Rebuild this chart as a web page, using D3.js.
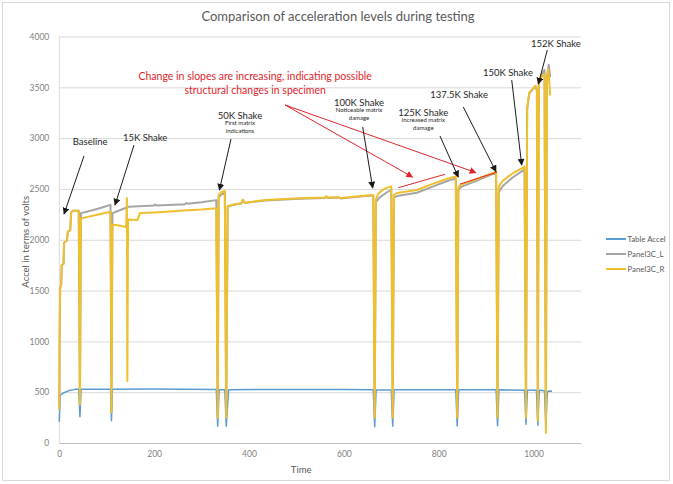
<!DOCTYPE html>
<html>
  <head>
    <title>Comparison of acceleration levels during testing</title>
    <script src="https://d3js.org/d3.v7.min.js"></script>
    <style>
      body { margin: 0; background: #fff; }
      text { font-family: Lato, "Open Sans", sans-serif; }
    </style>
  </head>
  <body>
  <svg width="673" height="484"></svg>
  <script>

    //series data as [time, volts] pairs
    var tableAccel = [[0,210],[2,470],[10,495],[20,515],[35,530],[41,528],[43.5,258],[46,528],[108,530],[110,218],[112,530],
      [200,532],[331,527],[334,166],[337,525],[349,525],[352,166],[357,525],[600,527],[662,525],[665,160],[668,522],
      [700,522],[703,165],[706,525],[836,523],[839,168],[842,525],[921,525],[924,170],[927,523],[981,520],[984,185],
      [987,520],[1006,520],[1009,175],[1012,520],[1023,515],[1026,170],[1029,505],[1033,512],[1039,510]];

    var panelL = [[0,330],[1,1200],[1.8,1530],[4,1560],[5,1750],[9,1765],[10,1970],[16,1990],[18,2080],[23,2095],[25,2270],
      [28,2285],[41,2285],[43.5,380],[45.5,2262],[70,2290],[90,2318],[108,2343],[110,300],[112,2262],[125,2285],[146,2325],
      [200,2336],[202,2347],[205,2338],[266,2350],[268,2362],[271,2355],[300,2370],[331,2390],[334,250],[336,2420],
      [349,2470],[352,250],[355,2325],[365,2342],[384,2357],[387,2390],[391,2362],[435,2387],[507,2404],[560,2412],
      [563,2424],[566,2412],[590,2415],[593,2407],[650,2432],[662,2436],[665,250],[667.5,2370],[675,2415],[690,2465],
      [700,2492],[703,250],[705.5,2415],[712,2430],[754,2462],[790,2528],[818,2578],[836,2604],[839,250],[841.5,2490],
      [846,2518],[882,2584],[921,2660],[924,250],[926.5,2470],[935,2528],[955,2610],[981,2692],[984,250],[986.5,3280],
      [991,3440],[1004,3512],[1007,3470],[1009,230],[1011,3545],[1017,3625],[1023,3672],[1026,180],[1028,3600],
      [1032,3722],[1035,3600]];

    var panelR = [[0,330],[1,1200],[1.8,1530],[4,1560],[5,1750],[9,1765],[10,1970],[16,1990],[18,2080],[23,2095],[25,2270],
      [28,2285],[41,2285],[43.5,380],[45.5,2210],[60,2225],[80,2245],[108,2275],[110,300],[112,2150],[125,2140],[141,2125],
      [142.5,2410],[143.5,610],[145,2200],[165,2195],[170,2262],[200,2268],[240,2280],[270,2290],[300,2298],[331,2310],
      [334,250],[336,2440],[342,2470],[349,2480],[352,250],[355,2330],[365,2345],[384,2360],[387,2395],[391,2365],
      [435,2390],[507,2408],[560,2415],[563,2428],[566,2415],[590,2418],[593,2410],[650,2435],[662,2440],[665,250],
      [667.5,2400],[672,2450],[680,2485],[690,2510],[700,2525],[703,250],[705.5,2440],[712,2460],[754,2490],[790,2555],
      [818,2600],[836,2622],[839,250],[841.5,2520],[846,2540],[882,2600],[921,2670],[924,250],[926.5,2520],[935,2580],
      [955,2650],[981,2720],[984,250],[986.5,3300],[991,3450],[1000,3495],[1004,3516],[1007,3467],[1009,220],[1011,3540],
      [1017,3600],[1023,3630],[1026,101],[1028,3580],[1031,3680],[1033,3560],[1035,3420]];

    var seriesNames = ["Table Accel", "Panel3C_L", "Panel3C_R"];
    var seriesColors = ["#5b9bd5", "#a5a5a5", "#f0bf2c"];
    var xTicks = [0, 200, 400, 600, 800, 1000];
    var yTicks = [0, 500, 1000, 1500, 2000, 2500, 3000, 3500, 4000];

    //callouts: label, sub lines, label pos, arrow from, arrow to (data units)
    var shakes = [
      {label: "Baseline", sub: [], at: [65, 2962], from: [52, 2824], to: [10, 2253]},
      {label: "15K Shake", sub: [], at: [181, 3011], from: [157.5, 2932], to: [117.5, 2342]},
      {label: "50K Shake", sub: ["First matrix", "indications"], at: [381, 3227], from: [362, 2991], to: [337.6, 2489]},
      {label: "100K Shake", sub: ["Noticeable matrix", "damage"], at: [632, 3355], from: [639.7, 3109], to: [660.8, 2509]},
      {label: "125K Shake", sub: ["Increased matrix", "damage"], at: [767.5, 3257], from: [802.7, 3021], to: [841.3, 2617]},
      {label: "137.5K Shake", sub: [], at: [843, 3429], from: [851.8, 3306], to: [920.8, 2670]},
      {label: "150K Shake", sub: [], at: [946, 3646], from: [953.9, 3572], to: [975, 2735]},
      {label: "152K Shake", sub: [], at: [1047, 3936], from: [1029, 3867], to: [1010, 3532]}
    ];
    var slopeNote = ["Change in slopes are increasing, indicating possible", "structural changes in specimen"];
    var slopeArrows = [[[476, 3326], [745, 2617]], [[476, 3326], [878.6, 2660]]];
    var slopeLines = [[[714.8, 2512], [813.2, 2644]], [[844.9, 2548], [922.3, 2664]]];

    var svg = d3.select("svg");
    var plotLeft = 59.3, plotRight = 581, plotTop = 36.5, plotBottom = 443;

    var x = d3.scaleLinear().domain([0, 1100]).range([plotLeft, plotRight]);
    var y = d3.scaleLinear().domain([0, 4000]).range([plotBottom, plotTop]);

    //chart border
    svg.append("rect")
      .attr("x", 2.5).attr("y", 2.5)
      .attr("width", 667).attr("height", 478)
      .attr("fill", "#fff").attr("stroke", "#d9d9d9");

    //arrow heads
    var defs = svg.append("defs");
    [["blk", "#1a1a1a"], ["red", "#e0262c"]].forEach(function(m) {
      defs.append("marker")
        .attr("id", "head-" + m[0])
        .attr("viewBox", "0 0 10 10")
        .attr("refX", 9).attr("refY", 5)
        .attr("markerWidth", 7).attr("markerHeight", 7)
        .attr("markerUnits", "userSpaceOnUse")
        .attr("orient", "auto")
        .append("path")
        .attr("d", "M0,0 L10,5 L0,10 z")
        .attr("fill", m[1]);
    });

    //gridlines + y axis labels
    var yAxis = svg.append("g")
      .attr("transform", "translate(" + plotLeft + ",0)")
      .call(d3.axisLeft(y).tickValues(yTicks).tickFormat(d3.format("d")).tickSize(-(plotRight - plotLeft)).tickPadding(10));
    yAxis.select(".domain").remove();
    yAxis.selectAll(".tick line").attr("stroke", "#d9d9d9");
    yAxis.selectAll(".tick text").attr("fill", "#7f7f7f").attr("font-size", "8.5px").attr("font-family", "Lato, sans-serif");

    //left axis line
    svg.append("line")
      .attr("x1", plotLeft).attr("x2", plotLeft).attr("y1", plotTop).attr("y2", plotBottom)
      .attr("stroke", "#d9d9d9");

    var xAxis = svg.append("g")
      .attr("transform", "translate(0," + plotBottom + ")")
      .call(d3.axisBottom(x).tickValues(xTicks).tickFormat(d3.format("d")).tickSize(0).tickPadding(8));
    xAxis.select(".domain").attr("stroke", "#bfbfbf");
    xAxis.selectAll(".tick text").attr("fill", "#7f7f7f").attr("font-size", "8.5px").attr("font-family", "Lato, sans-serif");

    //series lines
    var line = d3.line()
      .x(function(d) { return x(d[0]); })
      .y(function(d) { return y(d[1]); });

    [tableAccel, panelL, panelR].forEach(function(s, i) {
      svg.append("path")
        .datum(s)
        .attr("fill", "none")
        .attr("stroke", seriesColors[i])
        .attr("stroke-width", i == 0 ? 1.5 : 2)
        .attr("stroke-linejoin", "round")
        .attr("d", line);
    });

    //title and axis titles
    svg.append("text")
      .attr("x", 338).attr("y", 21)
      .attr("text-anchor", "middle")
      .attr("font-size", "13px")
      .attr("fill", "#595959")
      .text("Comparison of acceleration levels during testing");

    svg.append("text")
      .attr("x", x(510)).attr("y", 473)
      .attr("text-anchor", "middle")
      .attr("font-size", "9.5px")
      .attr("fill", "#595959")
      .text("Time");

    svg.append("text")
      .attr("transform", "translate(29," + y(1980) + ") rotate(-90)")
      .attr("text-anchor", "middle")
      .attr("font-size", "9.5px")
      .attr("fill", "#595959")
      .text("Accel in terms of volts");

    //legend
    var legend = svg.append("g");
    seriesNames.forEach(function(n, i) {
      var ly = 239 + i * 15;
      legend.append("line")
        .attr("x1", 606).attr("x2", 626).attr("y1", ly).attr("y2", ly)
        .attr("stroke", seriesColors[i]).attr("stroke-width", 2);
      legend.append("text")
        .attr("x", 627.5).attr("y", ly + 3)
        .attr("font-size", "7.8px")
        .attr("fill", "#595959")
        .text(n);
    });

    //red slope note
    slopeLines.forEach(function(s) {
      svg.append("line")
        .attr("x1", x(s[0][0])).attr("y1", y(s[0][1]))
        .attr("x2", x(s[1][0])).attr("y2", y(s[1][1]))
        .attr("stroke", "#e0262c").attr("stroke-width", 1);
    });
    slopeArrows.forEach(function(s) {
      svg.append("line")
        .attr("x1", x(s[0][0])).attr("y1", y(s[0][1]))
        .attr("x2", x(s[1][0])).attr("y2", y(s[1][1]))
        .attr("stroke", "#e0262c").attr("stroke-width", 1)
        .attr("marker-end", "url(#head-red)");
    });
    slopeNote.forEach(function(t, i) {
      svg.append("text")
        .attr("x", x(413)).attr("y", y(3611) + 4 + i * 13.5)
        .attr("text-anchor", "middle")
        .attr("font-size", "10.5px")
        .attr("fill", "#e0262c")
        .text(t);
    });

    //shake callouts
    shakes.forEach(function(s) {
      svg.append("line")
        .attr("x1", x(s.from[0])).attr("y1", y(s.from[1]))
        .attr("x2", x(s.to[0])).attr("y2", y(s.to[1]))
        .attr("stroke", "#1a1a1a").attr("stroke-width", 1)
        .attr("marker-end", "url(#head-blk)");
      svg.append("text")
        .attr("x", x(s.at[0])).attr("y", y(s.at[1]) + 3.5)
        .attr("text-anchor", "middle")
        .attr("font-size", "9.5px")
        .attr("fill", "#262626")
        .text(s.label);
      s.sub.forEach(function(t, i) {
        svg.append("text")
          .attr("x", x(s.at[0])).attr("y", y(s.at[1]) + 10 + i * 8)
          .attr("text-anchor", "middle")
          .attr("font-size", "6px")
          .attr("fill", "#262626")
          .text(t);
      });
    });

  </script>
  </body>
</html>
